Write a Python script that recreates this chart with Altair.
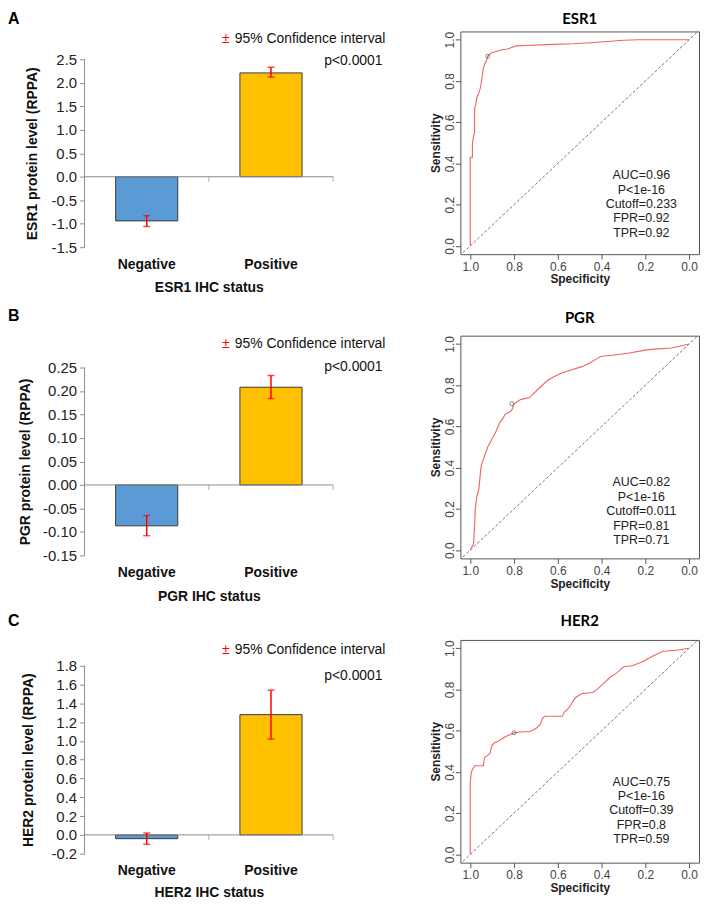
import altair as alt
import pandas as pd

# ------------------------------------------------------------------ data
categories = ["Negative", "Positive"]
bar_colors = ["#5b9bd5", "#ffc000"]

genes = ["ESR1", "PGR", "HER2"]
letters = ["A", "B", "C"]

esr1_mean = [-0.94, 2.21]
esr1_ci_low = [-1.06, 2.12]
esr1_ci_high = [-0.83, 2.33]

pgr_mean = [-0.087, 0.208]
pgr_ci_low = [-0.108, 0.184]
pgr_ci_high = [-0.065, 0.233]

her2_mean = [-0.04, 1.28]
her2_ci_low = [-0.10, 1.02]
her2_ci_high = [0.02, 1.54]

esr1_yticks = [-1.5, -1.0, -0.5, 0.0, 0.5, 1.0, 1.5, 2.0, 2.5]
pgr_yticks = [-0.15, -0.10, -0.05, 0.0, 0.05, 0.10, 0.15, 0.20, 0.25]
her2_yticks = [-0.2, 0.0, 0.2, 0.4, 0.6, 0.8, 1.0, 1.2, 1.4, 1.6, 1.8]

ci_label = "95% Confidence interval"
p_label = "p<0.0001"

esr1_spec = [1.0, 1.0, 0.99, 0.99, 0.985, 0.98, 0.98, 0.975, 0.97, 0.965, 0.955, 0.95,
             0.94, 0.935, 0.925, 0.92, 0.905, 0.89, 0.86, 0.83, 0.79, 0.75, 0.65, 0.53,
             0.45, 0.39, 0.30, 0.23, 0.10, 0.0]
esr1_sens = [0.0, 0.43, 0.43, 0.50, 0.53, 0.55, 0.67, 0.68, 0.72, 0.73, 0.76, 0.79,
             0.86, 0.88, 0.90, 0.92, 0.935, 0.94, 0.95, 0.955, 0.97, 0.972, 0.976, 0.98,
             0.985, 0.99, 0.997, 1.0, 1.0, 1.0]

pgr_spec = [1.0, 0.99, 0.985, 0.98, 0.977, 0.97, 0.96, 0.955, 0.95, 0.94, 0.92, 0.91,
            0.895, 0.88, 0.865, 0.85, 0.84, 0.82, 0.81, 0.80, 0.77, 0.73, 0.71, 0.68,
            0.65, 0.62, 0.58, 0.55, 0.49, 0.45, 0.42, 0.40, 0.35, 0.28, 0.20, 0.16,
            0.08, 0.04, 0.0]
pgr_sens = [0.0, 0.02, 0.03, 0.12, 0.20, 0.26, 0.30, 0.36, 0.41, 0.44, 0.50, 0.52,
            0.55, 0.58, 0.62, 0.64, 0.66, 0.67, 0.68, 0.71, 0.73, 0.74, 0.76, 0.79,
            0.82, 0.84, 0.86, 0.87, 0.89, 0.91, 0.93, 0.94, 0.945, 0.955, 0.97, 0.975,
            0.98, 0.99, 1.0]

her2_spec = [1.0, 1.0, 0.995, 0.99, 0.98, 0.94, 0.935, 0.92, 0.91, 0.90, 0.89, 0.87,
             0.84, 0.80, 0.76, 0.73, 0.70, 0.68, 0.67, 0.66, 0.58, 0.57, 0.55, 0.52,
             0.49, 0.44, 0.42, 0.40, 0.36, 0.33, 0.30, 0.26, 0.21, 0.17, 0.12, 0.06, 0.0]
her2_sens = [0.0, 0.35, 0.40, 0.41, 0.43, 0.43, 0.47, 0.48, 0.49, 0.53, 0.54, 0.55,
             0.57, 0.59, 0.595, 0.595, 0.61, 0.63, 0.66, 0.67, 0.67, 0.69, 0.71, 0.76,
             0.78, 0.785, 0.80, 0.82, 0.86, 0.88, 0.91, 0.915, 0.935, 0.96, 0.985, 0.99, 1.0]

cutoff_spec = [0.92, 0.81, 0.80]
cutoff_sens = [0.92, 0.71, 0.59]

esr1_stats = ["AUC=0.96", "P<1e-16", "Cutoff=0.233", "FPR=0.92", "TPR=0.92"]
pgr_stats = ["AUC=0.82", "P<1e-16", "Cutoff=0.011", "FPR=0.81", "TPR=0.71"]
her2_stats = ["AUC=0.75", "P<1e-16", "Cutoff=0.39", "FPR=0.8", "TPR=0.59"]

roc_ticks = [0.0, 0.2, 0.4, 0.6, 0.8, 1.0]
chance_spec = [1.05, -0.05]

# ------------------------------------------------------------------ layout
FONT = "Liberation Sans"
H = 224          # row height (ROC box height)
BW = 250         # bar plot width
RW = 240         # ROC box width
HSP = 128
VSP = 82
TICK_SPAN = 189  # pixels between lowest and highest bar-axis tick
AXIS_GREY = "#8c8c8c"


def one():
    return pd.DataFrame({"k": [0]})


def bar_panel(letter, gene, mean, lo, hi, ticks, dec, pad_top, title_x,
              title_gap, note_y, p_y, letter_y):
    unit = TICK_SPAN / (ticks[-1] - ticks[0])
    top = ticks[-1] + pad_top / unit
    bottom = ticks[0] - (H - pad_top - TICK_SPAN) / unit
    low_px = pad_top + TICK_SPAN
    mid_px = pad_top + TICK_SPAN / 2

    df = pd.DataFrame({"status": categories, "mean": mean, "lo": lo, "hi": hi})
    yscale = alt.Scale(domain=[bottom, top], nice=False, zero=False)
    lab = f"(datum.value < 0 ? '-' : '') + format(abs(datum.value), '.{dec}f')"
    ytitle = f"{gene} protein level (RPPA)"
    yaxis = alt.Axis(
        values=ticks, labelExpr=lab, domain=False, grid=False, labelOverlap=False,
        tickSize=5, tickColor=AXIS_GREY, labelFont=FONT, labelFontSize=15,
        labelColor="#222", labelPadding=3, title=ytitle, titleFont=FONT,
        titleFontSize=14, titleFontWeight="bold", titleColor="#111",
        titleAngle=270, titleX=title_x, titleY=mid_px,
        titleAlign="center", titleBaseline="middle")

    xenc = alt.X(
        "status:N", sort=categories,
        scale=alt.Scale(paddingInner=0.5, paddingOuter=0.25),
        axis=alt.Axis(
            domain=False, ticks=False, labelAngle=0, labelFont=FONT,
            labelFontSize=14, labelFontWeight="bold", labelColor="#111",
            labelPadding=low_px + 10 - H, title=f"{gene} IHC status",
            titleFont=FONT, titleFontSize=14, titleFontWeight="bold",
            titleColor="#111", titleY=low_px + title_gap - H,
            titleBaseline="middle"))

    def Y(field):
        return alt.Y(field, scale=yscale, axis=yaxis, title=ytitle)

    def YD(v):
        return alt.YDatum(v, type="quantitative", scale=yscale, axis=yaxis,
                          title=ytitle)

    base = alt.Chart(df).encode(x=xenc)

    bars = base.mark_bar(stroke="#3a3a3a", strokeWidth=1).encode(
        y=Y("mean:Q"), y2=alt.datum(0),
        color=alt.Color("status:N", scale=alt.Scale(domain=categories, range=bar_colors),
                        legend=None))

    yaxis_line = alt.Chart(one()).mark_rule(color=AXIS_GREY).encode(
        x=alt.value(0), y=YD(ticks[0]), y2=alt.datum(ticks[-1]))
    zero_line = alt.Chart(one()).mark_rule(color=AXIS_GREY).encode(
        y=YD(0), x=alt.value(0), x2=alt.value(BW))
    bound_ticks = base.mark_tick(orient="vertical", size=5, thickness=1,
                                 color=AXIS_GREY, yOffset=2.5,
                                 xOffset=BW / 4).encode(y=YD(0))

    err = base.mark_rule(color="#ff0000", strokeWidth=1.5).encode(
        y=Y("lo:Q"), y2="hi:Q")
    cap_lo = base.mark_tick(orient="horizontal", size=7, thickness=1.5,
                            color="#ff0000").encode(y=Y("lo:Q"))
    cap_hi = base.mark_tick(orient="horizontal", size=7, thickness=1.5,
                            color="#ff0000").encode(y=Y("hi:Q"))

    pm = alt.Chart(one()).mark_text(text="±", color="#ff0000", font=FONT,
                                    fontSize=14, align="center",
                                    baseline="middle").encode(
        x=alt.value(142), y=alt.value(note_y))
    ci = alt.Chart(one()).mark_text(text=ci_label, color="#111", font=FONT,
                                    fontSize=14, align="left",
                                    baseline="middle").encode(
        x=alt.value(151), y=alt.value(note_y))
    pv = alt.Chart(one()).mark_text(text=p_label, color="#111", font=FONT,
                                    fontSize=14, align="left",
                                    baseline="middle").encode(
        x=alt.value(241), y=alt.value(p_y))
    let = alt.Chart(one()).mark_text(text=letter, color="#000", font=FONT,
                                     fontSize=16, fontWeight="bold",
                                     align="left", baseline="middle").encode(
        x=alt.value(-77), y=alt.value(letter_y))

    return alt.layer(bars, zero_line, bound_ticks, yaxis_line, err, cap_lo,
                     cap_hi, pm, ci, pv, let).properties(
        width=BW, height=H, view=alt.ViewBackground(strokeWidth=0))


def roc_panel(gene, spec, sens, cs, ct, stats, stat_y, title_y):
    df = pd.DataFrame({"spec": spec, "sens": sens, "i": list(range(len(spec)))})
    xs = alt.Scale(domain=[-0.045, 1.045], reverse=True, nice=False, zero=False)
    ys = alt.Scale(domain=[-0.04, 1.04], nice=False, zero=False)
    fmt = "format(datum.value, '.1f')"
    xaxis = alt.Axis(values=roc_ticks, labelExpr=fmt, domain=False, grid=False,
                     labelOverlap=False,
                     tickSize=5, tickColor="#555", labelFont=FONT,
                     labelFontSize=12, labelColor="#444", labelPadding=2,
                     title="Specificity", titleFont=FONT, titleFontSize=12,
                     titleFontWeight="bold", titleColor="#222", titleY=25,
                     titleBaseline="middle")
    yaxis = alt.Axis(values=roc_ticks, labelExpr=fmt, domain=False, grid=False,
                     labelOverlap=False,
                     tickSize=5, tickColor="#555", labelFont=FONT,
                     labelFontSize=12, labelColor="#444", labelPadding=6,
                     labelAngle=270, labelAlign="center", labelBaseline="middle",
                     title="Sensitivity", titleFont=FONT, titleFontSize=12,
                     titleFontWeight="bold", titleColor="#222", titleAngle=270,
                     titleX=-25, titleY=H / 2, titleAlign="center",
                     titleBaseline="middle")
    X = alt.X("spec:Q", scale=xs, axis=xaxis, title="Specificity")
    Yc = alt.Y("sens:Q", scale=ys, axis=yaxis, title="Sensitivity")

    chance = alt.Chart(pd.DataFrame({"spec": chance_spec})).transform_calculate(
        sens="1 - datum.spec").mark_line(
        clip=True, strokeDash=[3, 2], color="#555", strokeWidth=0.8).encode(
        x=X, y=Yc)

    curve = alt.Chart(df).mark_line(color="#f06262", strokeWidth=1.1).encode(
        x=X, y=Yc, order="i:Q")

    cut = alt.Chart(pd.DataFrame({"spec": [cs], "sens": [ct]})).mark_point(
        shape="circle", size=16, filled=False, color="#333",
        strokeWidth=0.8).encode(x=X, y=Yc)

    txt = alt.Chart(pd.DataFrame({"t": ["\n".join(stats)]})).mark_text(
        lineBreak="\n", lineHeight=14.5, fontSize=12.5, font=FONT,
        color="#222", align="center", baseline="top").encode(
        text="t:N", x=alt.value(182), y=alt.value(stat_y))

    title = alt.Chart(one()).mark_text(
        text=gene, font="Lato", fontSize=15, fontWeight="bold", color="#000",
        align="center", baseline="middle").encode(
        x=alt.value(RW / 2), y=alt.value(title_y))

    return alt.layer(chance, curve, cut, txt, title).properties(
        width=RW, height=H,
        view=alt.ViewBackground(stroke="#555", strokeWidth=1))


panels = [
    bar_panel("A", "ESR1", esr1_mean, esr1_ci_low, esr1_ci_high, esr1_yticks, 1,
              28, -52, 41, 8, 30, -12.5),
    roc_panel("ESR1", esr1_spec, esr1_sens, cutoff_spec[0], cutoff_sens[0],
              esr1_stats, 138.5, -12),
    bar_panel("B", "PGR", pgr_mean, pgr_ci_low, pgr_ci_high, pgr_yticks, 2,
              32, -59, 41, 8, 32, -20),
    roc_panel("PGR", pgr_spec, pgr_sens, cutoff_spec[1], cutoff_sens[1],
              pgr_stats, 141.5, -18),
    bar_panel("C", "HER2", her2_mean, her2_ci_low, her2_ci_high, her2_yticks, 1,
              26, -56, 39, 10, 36, -19),
    roc_panel("HER2", her2_spec, her2_sens, cutoff_spec[2], cutoff_sens[2],
              her2_stats, 136.5, -19),
]

chart = alt.concat(
    *panels, columns=2, spacing={"row": VSP, "column": HSP}, bounds="flush"
).properties(
    padding=0
).configure(font=FONT).configure_view(strokeWidth=0).configure_axis(
    labelOverlap=False)

chart.save("out.html", embed_options={"renderer": "svg", "actions": False})
